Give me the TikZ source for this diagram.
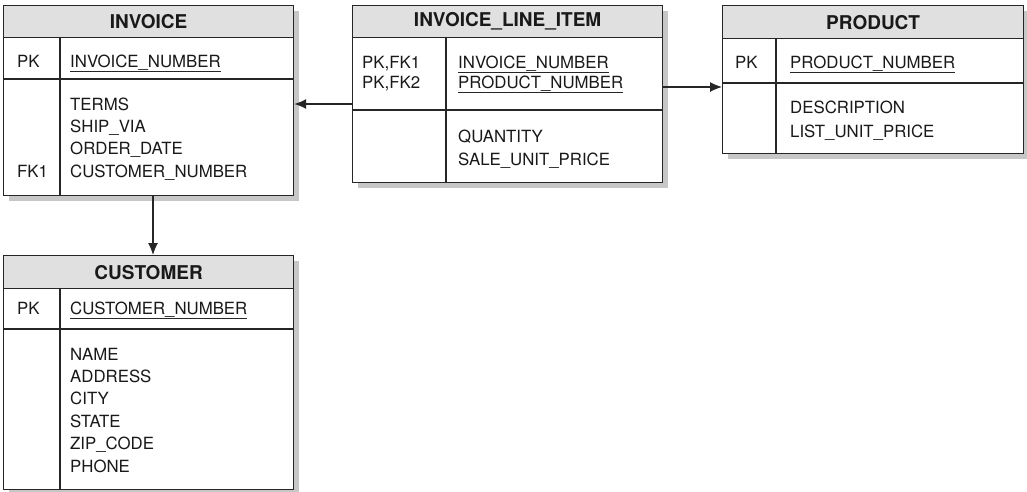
\documentclass[tikz,border=0pt]{standalone}
\usepackage{fontspec}
\setmainfont{TeX Gyre Heros}
\usetikzlibrary{arrows.meta,shadows}

\tikzset{
  tbox/.style={draw=black!85, line width=1.2pt, fill=white, anchor=north west, inner sep=0pt,
    drop shadow={shadow xshift=5pt, shadow yshift=-5pt, fill=black!22, opacity=1}},
  thead/.style={draw=black!85, line width=1.2pt, fill=black!12, anchor=north west, inner sep=0pt,
    text=black!90, font=\fontsize{19}{22}\selectfont\bfseries},
  field/.style={anchor=base west, inner sep=0pt, text=black!90, font=\fontsize{16.8}{20}\selectfont},
  divider/.style={draw=black!85, line width=1.2pt},
  uline/.style={draw=black!85, line width=0.9pt},
  link/.style={draw=black!85, line width=1.2pt, -{Latex[length=12pt,width=10pt]}}
}

\begin{document}
\begin{tikzpicture}[x=1pt, y=-1pt]
  \useasboundingbox (0,0) rectangle (1027,491);
  % INVOICE
  \node[tbox, minimum width=290, minimum height=190] (invoice) at (3,5) {};
  \node[thead, minimum width=290, minimum height=32] (invoice-h) at (3,5) {INVOICE};
  \draw[divider] (3,79) -- (293,79);
  \draw[divider] (60,37) -- (60,195);
  \node[field] (invoice-pk) at (17,67) {PK};
  \node[field] (invoice-id) at (70,67) {INVOICE\_NUMBER};
  \draw[uline] ([yshift=-4pt]invoice-id.base west) -- ([yshift=-4pt]invoice-id.base east);
  \foreach \f [count=\i] in {TERMS, SHIP\_VIA, ORDER\_DATE, CUSTOMER\_NUMBER}
    \node[field] (invoice-a\i) at (70,{110+22.4*(\i-1)}) {\f};
  \node[field] (invoice-fk) at (17,177) {FK1};
  % INVOICE_LINE_ITEM
  \node[tbox, minimum width=310, minimum height=177] (item) at (352,5) {};
  \node[thead, minimum width=310, minimum height=32] (item-h) at (352,5) {INVOICE\_LINE\_ITEM};
  \draw[divider] (352,110) -- (662,110);
  \draw[divider] (446,37) -- (446,182);
  \node[field] (item-pk1) at (362,68) {PK,FK1};
  \node[field] (item-pk2) at (362,88) {PK,FK2};
  \node[field] (item-id1) at (458,68) {INVOICE\_NUMBER};
  \node[field] (item-id2) at (458,88) {PRODUCT\_NUMBER};
  \draw[uline] ([yshift=-4pt]item-id1.base west) -- ([yshift=-4pt]item-id1.base east);
  \draw[uline] ([yshift=-4pt]item-id2.base west) -- ([yshift=-4pt]item-id2.base east);
  \node[field] (item-a1) at (458,142) {QUANTITY};
  \node[field] (item-a2) at (458,165) {SALE\_UNIT\_PRICE};
  % PRODUCT
  \node[tbox, minimum width=301, minimum height=148] (product) at (722,5) {};
  \node[thead, minimum width=301, minimum height=33] (product-h) at (722,5) {PRODUCT};
  \draw[divider] (722,83) -- (1023,83);
  \draw[divider] (776,38) -- (776,153);
  \node[field] (product-pk) at (735,68) {PK};
  \node[field] (product-id) at (790,68) {PRODUCT\_NUMBER};
  \draw[uline] ([yshift=-4pt]product-id.base west) -- ([yshift=-4pt]product-id.base east);
  \node[field] (product-a1) at (790,113) {DESCRIPTION};
  \node[field] (product-a2) at (790,137) {LIST\_UNIT\_PRICE};
  % CUSTOMER
  \node[tbox, minimum width=290, minimum height=234] (customer) at (3,255) {};
  \node[thead, minimum width=290, minimum height=33] (customer-h) at (3,255) {CUSTOMER};
  \draw[divider] (3,329) -- (293,329);
  \draw[divider] (60,288) -- (60,489);
  \node[field] (customer-pk) at (17,314) {PK};
  \node[field] (customer-id) at (70,314) {CUSTOMER\_NUMBER};
  \draw[uline] ([yshift=-4pt]customer-id.base west) -- ([yshift=-4pt]customer-id.base east);
  \foreach \f [count=\i] in {NAME, ADDRESS, CITY, STATE, ZIP\_CODE, PHONE}
    \node[field] (customer-a\i) at (70,{360+22.4*(\i-1)}) {\f};
  % connectors
  \draw[link] (item.west |- 0,104) -- (invoice.east |- 0,104);
  \draw[link] (item.east |- 0,87) -- (product.west |- 0,87);
  \draw[link] (invoice.south -| 153,0) -- (customer.north -| 153,0);
\end{tikzpicture}
\end{document}
